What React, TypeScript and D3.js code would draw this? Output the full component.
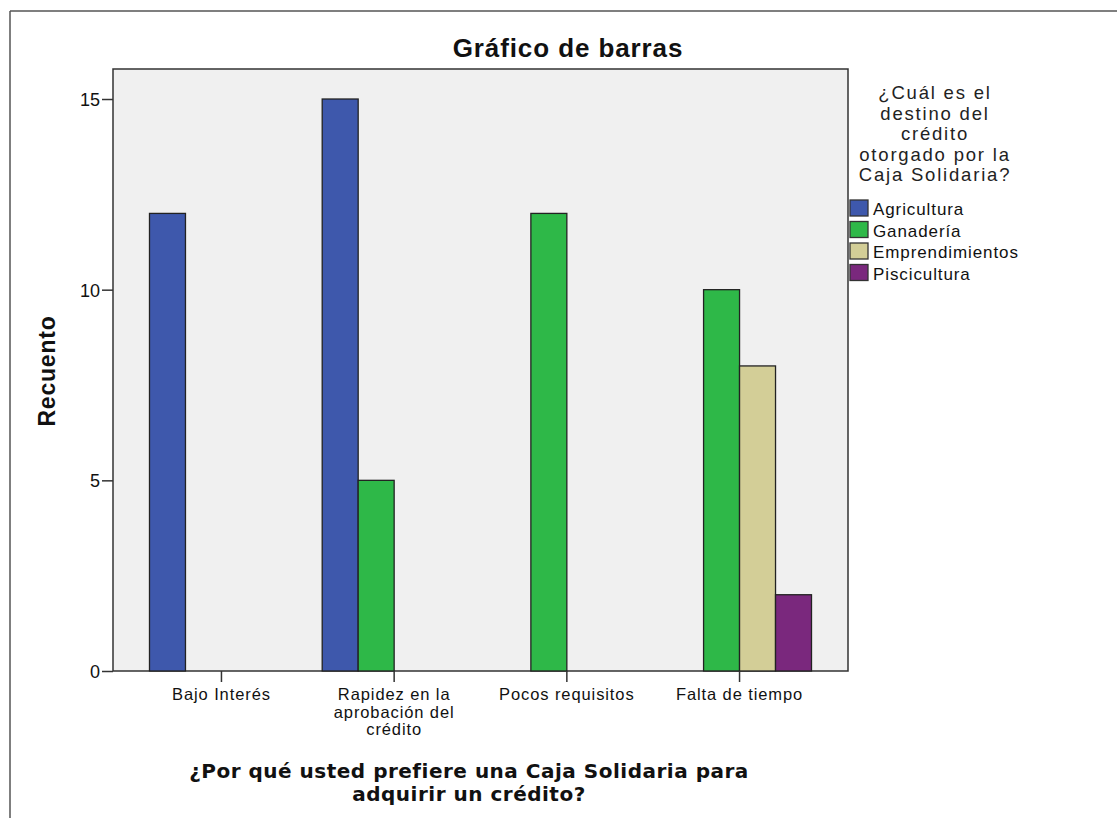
import React, { useEffect, useRef } from "react";
import * as d3 from "d3";

const categories = ["Bajo Interés", "Rapidez en la aprobación del crédito", "Pocos requisitos", "Falta de tiempo"];
const categoryLines = [["Bajo Interés"], ["Rapidez en la", "aprobación del", "crédito"], ["Pocos requisitos"], ["Falta de tiempo"]];
const seriesNames = ["Agricultura", "Ganadería", "Emprendimientos", "Piscicultura"];
const seriesColors = ["#3e58ac", "#2eb848", "#d3ce97", "#7a287d"];
// counts per category, in series order (0 = no bar)
const agricultura = [12, 15, 0, 0];
const ganaderia = [0, 5, 12, 10];
const emprendimientos = [0, 0, 0, 8];
const piscicultura = [0, 0, 0, 2];
const yTicks = [0, 5, 10, 15];
const legendTitle = ["¿Cuál es el", "destino del", "crédito", "otorgado por la", "Caja Solidaria?"];
const xTitle = ["¿Por qué usted prefiere una Caja Solidaria para", "adquirir un crédito?"];

const W = 1117;
const H = 818;
const plot = { left: 113, right: 848, top: 69, bottom: 671 };
const sans = "'Liberation Sans', Arial, sans-serif";

function App() {
  const ref = useRef<SVGSVGElement>(null);

  useEffect(function drawChart() {
    const svg = d3.select(ref.current);
    svg.selectAll("*").remove();

    const values = [agricultura, ganaderia, emprendimientos, piscicultura];
    const rows: { cat: string; series: string; value: number; color: string }[] = [];
    categories.forEach((c, i) => {
      seriesNames.forEach((s, j) => {
        if (values[j][i] > 0) rows.push({ cat: c, series: s, value: values[j][i], color: seriesColors[j] });
      });
    });

    const x0 = d3.scaleBand().domain(categories).range([plot.left, plot.right]).paddingInner(0).paddingOuter(0.128);
    const x1 = d3.scaleBand().domain(seriesNames).range([0, x0.bandwidth()]).paddingInner(0).paddingOuter(0.4);
    const y = d3.scaleLinear().domain([0, 15.787]).range([plot.bottom, plot.top]);

    // outer frame
    svg.append("line").attr("x1", 10).attr("x2", W).attr("y1", 11).attr("y2", 11)
      .attr("stroke", "#555").attr("stroke-width", 1.5);
    svg.append("line").attr("x1", 10).attr("x2", 10).attr("y1", 11).attr("y2", H)
      .attr("stroke", "#555").attr("stroke-width", 1.5);

    // plot background
    svg.append("rect")
      .attr("x", plot.left).attr("y", plot.top)
      .attr("width", plot.right - plot.left).attr("height", plot.bottom - plot.top)
      .attr("fill", "#f0f0f0").attr("stroke", "#333").attr("stroke-width", 1.5);

    // bars
    svg.append("g").selectAll("rect").data(rows).enter().append("rect")
      .attr("x", (d) => x0(d.cat)! + x1(d.series)!)
      .attr("y", (d) => y(d.value))
      .attr("width", x1.bandwidth())
      .attr("height", (d) => y(0) - y(d.value))
      .attr("fill", (d) => d.color)
      .attr("stroke", "#222")
      .attr("stroke-width", 1.3);

    // y axis
    const yAxis = svg.append("g").attr("transform", `translate(${plot.left},0)`)
      .call(d3.axisLeft(y).tickValues(yTicks).tickSize(11).tickFormat(d3.format("d")));
    yAxis.select(".domain").remove();
    yAxis.selectAll("line").attr("stroke", "#333").attr("stroke-width", 1.5);
    yAxis.selectAll("text").attr("font-family", sans).attr("font-size", 18).attr("fill", "#111")
      .attr("x", -13).attr("dy", "0.36em");

    // x axis
    const xAxis = svg.append("g").attr("transform", `translate(0,${plot.bottom})`)
      .call(d3.axisBottom(x0).tickSize(11).tickFormat(() => ""));
    xAxis.select(".domain").remove();
    xAxis.selectAll("line").attr("stroke", "#333").attr("stroke-width", 1.5);
    xAxis.selectAll(".tick").each(function (d, i) {
      const t = d3.select(this).select("text").attr("y", 0).attr("dy", 0)
        .attr("font-family", sans).attr("font-size", 16.5).attr("letter-spacing", 0.9).attr("fill", "#111");
      categoryLines[i].forEach((line, k) => {
        t.append("tspan").attr("x", 0).attr("y", 29 + k * 17.5).text(line);
      });
    });

    // title
    svg.append("text").attr("x", 568).attr("y", 57).attr("text-anchor", "middle")
      .attr("font-family", sans).attr("font-weight", "bold").attr("font-size", 26)
      .attr("letter-spacing", 0.9).attr("fill", "#111").text("Gráfico de barras");

    // y title
    svg.append("text").attr("transform", "translate(55,371) rotate(-90)").attr("text-anchor", "middle")
      .attr("font-family", sans).attr("font-weight", "bold").attr("font-size", 23)
      .attr("letter-spacing", 0.8).attr("fill", "#111").text("Recuento");

    // x title
    svg.append("g").selectAll("text").data(xTitle).enter().append("text")
      .attr("x", 469).attr("y", (d, i) => 778 + i * 23).attr("text-anchor", "middle")
      .attr("font-family", "'DejaVu Sans', Verdana, sans-serif").attr("font-weight", "bold")
      .attr("font-size", 20).attr("letter-spacing", 0.5).attr("fill", "#111").text((d) => d);

    // legend
    const legend = svg.append("g");
    legend.selectAll("text.lt").data(legendTitle).enter().append("text")
      .attr("class", "lt").attr("x", 935).attr("y", (d, i) => 99 + i * 20.5).attr("text-anchor", "middle")
      .attr("font-family", sans).attr("font-size", 18.5).attr("letter-spacing", 1.8).attr("fill", "#222")
      .text((d) => d);
    const items = legend.selectAll("g.item").data(seriesNames).enter().append("g")
      .attr("class", "item").attr("transform", (d, i) => `translate(850,${200 + i * 21.5})`);
    items.append("rect").attr("width", 18).attr("height", 16)
      .attr("fill", (d, i) => seriesColors[i]).attr("stroke", "#333").attr("stroke-width", 1.3);
    items.append("text").attr("x", 23).attr("y", 15)
      .attr("font-family", sans).attr("font-size", 17).attr("letter-spacing", 0.9).attr("fill", "#111")
      .text((d) => d);
  }, []);

  return (
    <svg ref={ref} width={W} height={H}
      style={{ position: "absolute", left: 0, top: 0, background: "#fff" }} />
  );
}

export default App;
